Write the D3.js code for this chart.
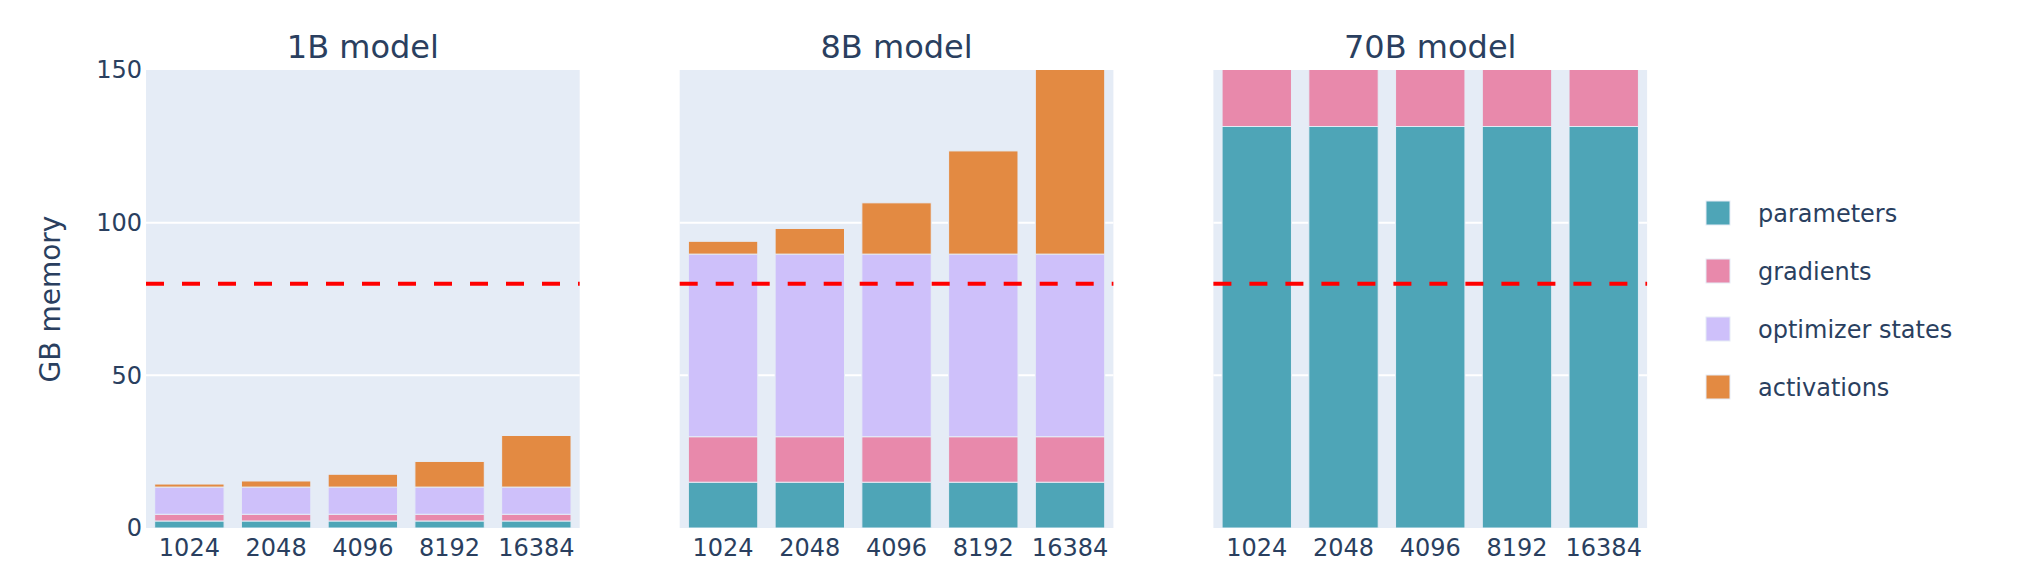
<!DOCTYPE html>
<html>
<head>
<meta charset="utf-8">
<script src="https://cdn.jsdelivr.net/npm/d3@7"></script>
<style>
  body { margin: 0; background: #fff; }
  text { font-family: "DejaVu Sans", Verdana, sans-serif; fill: #2a3f5f; }
</style>
</head>
<body>
<svg id="chart" width="2044" height="578"></svg>
<script>
// data (GB)
const seqLens = ["1024", "2048", "4096", "8192", "16384"];
const models = ["1B model", "8B model", "70B model"];
const components = ["parameters", "gradients", "optimizer states", "activations"];
const compColors = ["#4EA5B7", "#E889AB", "#CEC0FA", "#E38A42"];
const yTicks = [0, 50, 100, 150];
const memLimit = 80;

const params1B = [2.3, 2.3, 2.3, 2.3, 2.3];
const grads1B = [2.2, 2.2, 2.2, 2.2, 2.2];
const optim1B = [8.9, 8.9, 8.9, 8.9, 8.9];
const activ1B = [1.0, 2.0, 4.2, 8.4, 16.9];

const params8B = [15.0, 15.0, 15.0, 15.0, 15.0];
const grads8B = [14.9, 14.9, 14.9, 14.9, 14.9];
const optim8B = [59.8, 59.8, 59.8, 59.8, 59.8];
const activ8B = [4.2, 8.4, 16.8, 33.8, 67.5];

const params70B = [131.5, 131.5, 131.5, 131.5, 131.5];
const grads70B = [131.5, 131.5, 131.5, 131.5, 131.5];
const optim70B = [526, 526, 526, 526, 526];
const activ70B = [35, 70, 140, 280, 560];

const modelSeries = [
  [params1B, grads1B, optim1B, activ1B],
  [params8B, grads8B, optim8B, activ8B],
  [params70B, grads70B, optim70B, activ70B]
];

// layout
const plotTop = 70, plotBottom = 528;
const firstLeft = 146, plotW = 433.7, panelGap = 100;

const svg = d3.select("#chart");

const y = d3.scaleLinear().domain([0, 150]).range([plotBottom, plotTop]);

const color = d3.scaleOrdinal().domain(components).range(compColors);

models.forEach((name, i) => {
  const left = firstLeft + i * (plotW + panelGap);
  const g = svg.append("g").attr("transform", `translate(${left},0)`);

  const x = d3.scaleBand().domain(seqLens).range([0, plotW])
    .paddingInner(0.2).paddingOuter(0.1);

  // background
  g.append("rect")
    .attr("x", 0).attr("y", plotTop)
    .attr("width", plotW).attr("height", plotBottom - plotTop)
    .attr("fill", "#E5ECF6");

  // gridlines
  g.selectAll(".grid").data(yTicks.filter(t => t > 0 && t < 150)).enter()
    .append("line")
    .attr("x1", 0).attr("x2", plotW)
    .attr("y1", d => y(d)).attr("y2", d => y(d))
    .attr("stroke", "#fff").attr("stroke-width", 2);

  // clip
  const clipId = "clip" + i;
  g.append("clipPath").attr("id", clipId)
    .append("rect")
    .attr("x", 0).attr("y", plotTop)
    .attr("width", plotW).attr("height", plotBottom - plotTop);

  // stacked bars
  const rows = seqLens.map((s, j) => {
    const r = { seq: s };
    components.forEach((c, k) => { r[c] = modelSeries[i][k][j]; });
    return r;
  });
  const stacked = d3.stack().keys(components)(rows);

  const bars = g.append("g").attr("clip-path", `url(#${clipId})`);
  bars.selectAll("g.layer").data(stacked).enter()
    .append("g").attr("class", "layer")
    .attr("fill", d => color(d.key))
    .selectAll("rect").data(d => d).enter()
    .append("rect")
    .attr("x", d => x(d.data.seq))
    .attr("width", x.bandwidth())
    .attr("y", d => y(d[1]))
    .attr("height", d => y(d[0]) - y(d[1]))
    .attr("stroke", "#E5ECF6")
    .attr("stroke-width", 1);

  // memory limit line
  g.append("line")
    .attr("x1", 0).attr("x2", plotW)
    .attr("y1", y(memLimit)).attr("y2", y(memLimit))
    .attr("stroke", "red").attr("stroke-width", 4)
    .attr("stroke-dasharray", "18,18");

  // x axis
  const xAxis = g.append("g")
    .attr("transform", `translate(0,${plotBottom})`)
    .call(d3.axisBottom(x).tickSize(0).tickPadding(11));
  xAxis.select(".domain").remove();
  xAxis.selectAll("text").style("font-size", "24px").attr("fill", "#2a3f5f");

  // y axis only on the first panel
  if (i === 0) {
    const yAxis = g.append("g")
      .call(d3.axisLeft(y).tickValues(yTicks).tickSize(0).tickPadding(4));
    yAxis.select(".domain").remove();
    yAxis.selectAll("text").style("font-size", "24px").attr("fill", "#2a3f5f");
  }

  // panel title
  g.append("text")
    .attr("x", plotW / 2).attr("y", 58)
    .attr("text-anchor", "middle")
    .style("font-size", "32px")
    .text(name);
});

// y axis title
svg.append("text")
  .attr("transform", `translate(60,${(plotTop + plotBottom) / 2}) rotate(-90)`)
  .attr("text-anchor", "middle")
  .style("font-size", "28px")
  .text("GB memory");

// legend
const legend = svg.append("g").attr("transform", "translate(1718,213)");
const items = legend.selectAll("g").data(components).enter()
  .append("g")
  .attr("transform", (d, k) => `translate(0,${k * 58})`);
items.append("rect")
  .attr("x", -12).attr("y", -12)
  .attr("width", 24).attr("height", 24)
  .attr("fill", d => color(d))
  .attr("stroke", "#E5ECF6").attr("stroke-width", 1);
items.append("text")
  .attr("x", 40).attr("y", 9)
  .style("font-size", "24px")
  .text(d => d);
</script>
</body>
</html>
